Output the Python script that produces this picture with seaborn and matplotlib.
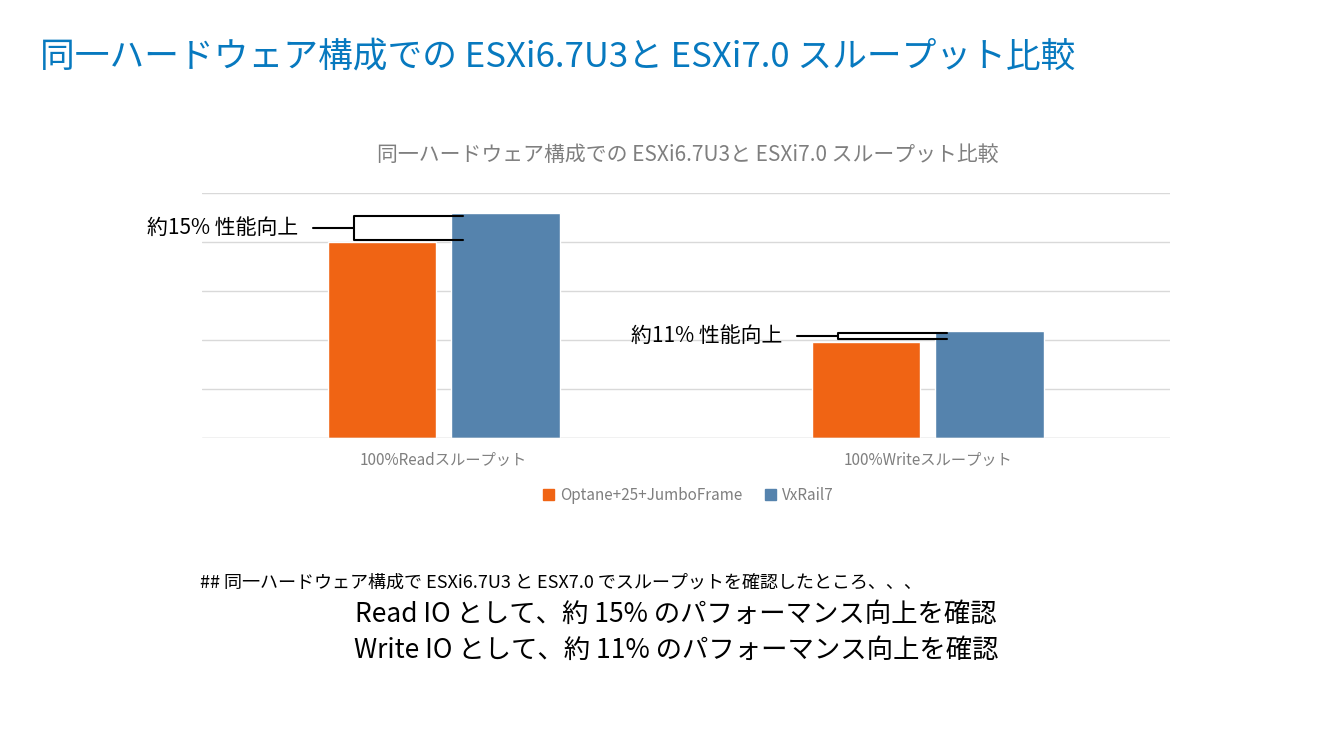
import matplotlib
matplotlib.use("Agg")
import matplotlib.pyplot as plt
import seaborn as sns
import pandas as pd

categories = ["100%Readスループット", "100%Writeスループット"]
series = ["Optane+25+JumboFrame", "VxRail7"]
optane = [4.0, 1.97]
vxrail = [4.59, 2.19]
labels = ["約15% 性能向上", "約11% 性能向上"]
colors = ["#F06414", "#5583AD"]

sns.set_theme(style="white")
plt.rcParams['font.family'] = ['Noto Sans CJK JP', 'DejaVu Sans']

df = pd.DataFrame({
    "cat": categories * 2,
    "series": [series[0]] * 2 + [series[1]] * 2,
    "val": optane + vxrail,
})

fig = plt.figure(figsize=(13.26, 7.42), dpi=100)
ax = fig.add_axes([0.152, 0.4097, 0.730, 0.330])
sns.barplot(data=df, x="cat", y="val", hue="series", palette=colors,
            width=0.51, gap=0.12, ax=ax, legend=False, saturation=1)
ax.set_xlim(-0.5, 1.5)
ax.set_ylim(0, 5)
ax.set_yticks([0, 1, 2, 3, 4, 5])
ax.set_yticklabels([])
ax.yaxis.grid(True, color="#D9D9D9", lw=1)
ax.set_axisbelow(True)
for s in ax.spines.values():
    s.set_visible(False)
ax.axhline(0, color="#D9D9D9", lw=1)
ax.tick_params(axis="x", length=0, labelsize=11, labelcolor="#7F7F7F", pad=10)
ax.tick_params(axis="y", length=0)
ax.set_xlabel("")
ax.set_ylabel("")

# brackets and labels
for i in range(2):
    lo, hi = optane[i], vxrail[i]
    mid = (lo + hi) / 2
    x0 = i - 0.27
    xb = i - 0.185
    x1 = i + 0.04
    ax.plot([x0, xb], [mid, mid], color="black", lw=1.5, clip_on=False)
    ax.plot([x1, xb, xb, x1], [hi - 0.05, hi - 0.05, lo + 0.05, lo + 0.05],
            color="black", lw=1.5, clip_on=False)
    ax.text(x0 - 0.03, mid, labels[i], ha="right", va="center", fontsize=15,
            color="black")

# legend
handles = [plt.Rectangle((0, 0), 1, 1, color=c) for c in colors]
fig.legend(handles, series, loc="center", bbox_to_anchor=(0.519, 1 - 495 / 742),
           ncol=2, frameon=False, fontsize=11, labelcolor="#7F7F7F",
           handlelength=0.7, handleheight=0.7, columnspacing=1.5, handletextpad=0.4)

fig.text(0.03, 1 - 57 / 742, "同一ハードウェア構成での ESXi6.7U3と ESXi7.0 スループット比較",
         fontsize=25, color="#0779BF", va="center", ha="left")
fig.text(0.519, 1 - 155 / 742, "同一ハードウェア構成での ESXi6.7U3と ESXi7.0 スループット比較",
         fontsize=15, color="#7F7F7F", va="center", ha="center")
fig.text(200 / 1326, 1 - 583 / 742,
         "## 同一ハードウェア構成で ESXi6.7U3 と ESX7.0 でスループットを確認したところ、、、",
         fontsize=13, color="black", va="center", ha="left")
fig.text(676 / 1326, 1 - 614 / 742, "Read IO として、約 15% のパフォーマンス向上を確認",
         fontsize=19, color="black", va="center", ha="center")
fig.text(676 / 1326, 1 - 650 / 742, "Write IO として、約 11% のパフォーマンス向上を確認",
         fontsize=19, color="black", va="center", ha="center")

fig.savefig("out.png", dpi=100)
